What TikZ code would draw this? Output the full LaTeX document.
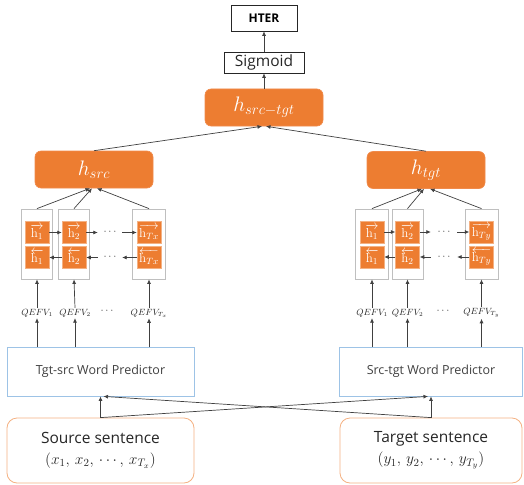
\RequirePackage{fix-cm}
\documentclass[tikz,border=0pt]{standalone}
\usepackage{fontspec}
\newfontfamily\sansf{Open Sans}
\usetikzlibrary{arrows.meta,calc}
\definecolor{orfill}{HTML}{ED7D31}
\definecolor{orline}{HTML}{F4B183}
\definecolor{orbord}{HTML}{F08A4B}
\definecolor{blline}{HTML}{9DC3E6}
\definecolor{grline}{HTML}{BFBFBF}
\definecolor{conn}{HTML}{404040}
\begin{document}
\begin{tikzpicture}[x=1pt,y=-1pt,
  arr/.style={draw=conn, line width=0.7pt, -{Latex[length=4.5pt,width=4pt]}},
  plainbox/.style={draw=black!85, line width=0.6pt, inner sep=0pt},
  bigo/.style={fill=orfill, draw=orbord, line width=0.6pt, rounded corners=6pt, text=white, inner sep=0pt,
               minimum width=118pt, minimum height=37pt, font=\fontsize{21}{23}\selectfont},
  colbox/.style={draw=grline, line width=0.8pt, minimum height=70pt, inner sep=0pt},
  inbox/.style={fill=orfill, draw=orline, line width=0.5pt, text=white, minimum width=24pt, minimum height=22pt,
                inner sep=0pt, font=\fontsize{13}{14}\selectfont},
  dotn/.style={inner sep=0pt, minimum height=10pt, text=conn, font=\fontsize{11}{12}\selectfont},
  qlab/.style={inner sep=1pt, text=black!85, font=\fontsize{9}{10}\selectfont},
  pred/.style={draw=blline, line width=0.8pt, inner sep=0pt, minimum height=49pt, text=conn,
               font=\sansf\fontsize{12.5}{14}\selectfont},
  sent/.style={draw=orline, line width=0.8pt, rounded corners=10pt, inner sep=0pt, minimum height=65pt,
               align=center, text=black!85, font=\sansf\fontsize{15.5}{21}\selectfont}]
\useasboundingbox (0,0) rectangle (524,484);

% top
\node[plainbox, minimum width=66pt, minimum height=26pt, font=\sansf\bfseries\fontsize{12}{14}\selectfont] (hter) at (264,18) {HTER};
\node[plainbox, minimum width=80pt, minimum height=21pt, font=\sansf\fontsize{15.5}{17}\selectfont, text=black!85] (sig) at (264,62.5) {Sigmoid};
\node[bigo] (hst) at (264,107.5) {$h_{src-tgt}$};
\node[bigo] (hsrc) at (94,169.5) {$h_{src}$};
\node[bigo] (htgt) at (426,170) {$h_{tgt}$};

% left columns
\node[colbox, minimum width=31pt] (L1) at (37,244) {};
\node[colbox, minimum width=31pt] (L2) at (74,244) {};
\node[colbox, minimum width=33pt] (L3) at (149,244) {};
\node[inbox] (L1t) at (37,232.5) {$\overrightarrow{\mathrm{h}_1}$};
\node[inbox] (L1b) at (37,257.5) {$\overleftarrow{\mathrm{h}_1}$};
\node[inbox] (L2t) at (74,232.5) {$\overrightarrow{\mathrm{h}_2}$};
\node[inbox] (L2b) at (74,257.5) {$\overleftarrow{\mathrm{h}_2}$};
\node[inbox] (L3t) at (149,232.5) {$\overrightarrow{\mathrm{h}_{Tx}}$};
\node[inbox] (L3b) at (149,257.5) {$\overleftarrow{\mathrm{h}_{Tx}}$};
\node[dotn, minimum width=24pt] (Ldt) at (110,232.5) {$\cdots$};
\node[dotn, minimum width=24pt] (Ldb) at (110,257.5) {$\cdots$};

% right columns
\node[colbox, minimum width=33pt] (R1) at (372,244) {};
\node[colbox, minimum width=31pt] (R2) at (407.5,244) {};
\node[colbox, minimum width=33pt] (R3) at (481.5,244) {};
\node[inbox] (R1t) at (372,232) {$\overrightarrow{\mathrm{h}_1}$};
\node[inbox] (R1b) at (372,257) {$\overleftarrow{\mathrm{h}_1}$};
\node[inbox] (R2t) at (407.5,232) {$\overrightarrow{\mathrm{h}_2}$};
\node[inbox] (R2b) at (407.5,257) {$\overleftarrow{\mathrm{h}_2}$};
\node[inbox] (R3t) at (481.5,232) {$\overrightarrow{\mathrm{h}_{Ty}}$};
\node[inbox] (R3b) at (481.5,257) {$\overleftarrow{\mathrm{h}_{Ty}}$};
\node[dotn, minimum width=26pt] (Rdt) at (444,232) {$\cdots$};
\node[dotn, minimum width=26pt] (Rdb) at (444,257) {$\cdots$};

% QEFV labels
\node[qlab] (Lq1) at (37,313) {$QEFV_1$};
\node[qlab] (Lq2) at (75,313) {$QEFV_2$};
\node[qlab] (Lq3) at (149,313) {$QEFV_{T_x}$};
\node[dotn] (Ldq) at (107,311) {$\cdots$};
\node[qlab] (Rq1) at (372,313) {$QEFV_1$};
\node[qlab] (Rq2) at (407.5,313) {$QEFV_2$};
\node[qlab] (Rq3) at (481.5,313) {$QEFV_{T_y}$};
\node[dotn] (Rdq) at (443,311) {$\cdots$};

% predictors
\node[pred, minimum width=187pt] (lp) at (100.5,371.5) {Tgt-src Word Predictor};
\node[pred, minimum width=183pt] (rp) at (431,371.5) {Src-tgt Word Predictor};

% sentences
\node[sent, minimum width=187pt] (src) at (100.5,450.5) {Source sentence\\$(x_1,\,x_2,\,\cdots,\,x_{T_x})$};
\node[sent, minimum width=182pt] (tgt) at (431,450.5) {Target sentence\\$(y_1,\,y_2,\,\cdots,\,y_{T_y})$};

% connectors: top
\draw[arr] (sig.north) -- (hter.south);
\draw[arr] (hst.north) -- (sig.south);
\draw[arr] (hsrc.north) -- ([xshift=-2pt]hst.south);
\draw[arr] (htgt.north) -- ([xshift=2pt]hst.south);

% columns to h
\draw[arr] (L1.north) -- ([xshift=-4pt]hsrc.south);
\draw[arr] (L2.north) -- ([xshift=-2pt]hsrc.south);
\draw[arr] (L3.north) -- ([xshift=3pt]hsrc.south);
\draw[arr] (R1.north) -- ([xshift=-4pt]htgt.south);
\draw[arr] (R2.north) -- ([xshift=-2pt]htgt.south);
\draw[arr] (R3.north) -- ([xshift=4pt]htgt.south);

% recurrent arrows
\draw[arr] (L1t) -- (L2t);
\draw[arr] (L2t) -- (Ldt);
\draw[arr] (Ldt) -- (L3t);
\draw[arr] (L2b) -- (L1b);
\draw[arr] (Ldb) -- (L2b);
\draw[arr] (L3b) -- (Ldb);
\draw[arr] (R1t) -- (R2t);
\draw[arr] (R2t) -- (Rdt);
\draw[arr] (Rdt) -- (R3t);
\draw[arr] (R2b) -- (R1b);
\draw[arr] (Rdb) -- (R2b);
\draw[arr] (R3b) -- (Rdb);

% labels to columns, predictors to labels
\foreach \c in {1,2,3} {
  \draw[arr] (Lq\c.north) -- (L\c.south);
  \draw[arr] (lp.north -| Lq\c) -- (Lq\c.south);
  \draw[arr] (Rq\c.north) -- (R\c.south);
  \draw[arr] (rp.north -| Rq\c) -- (Rq\c.south);
}

% sentences to predictors
\draw[arr] (src.north) -- (lp.south);
\draw[arr] (tgt.north) -- (rp.south);
\draw[arr] (src.north) -- ([xshift=-3pt]rp.south);
\draw[arr] (tgt.north) -- ([xshift=3pt]lp.south);
\end{tikzpicture}
\end{document}
